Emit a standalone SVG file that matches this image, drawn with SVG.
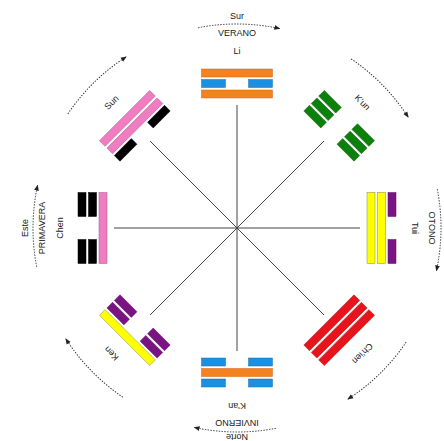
<svg xmlns="http://www.w3.org/2000/svg" width="444" height="441" viewBox="0 0 444 441">
<style>
.t{font-family:"Liberation Sans",Arial,sans-serif;font-size:9px;fill:#222;text-anchor:middle}
.arc{fill:none;stroke:#333;stroke-width:1;stroke-dasharray:1.4 1.4;marker-end:url(#ah)}
.ray{stroke:#444;stroke-width:1}
rect{stroke-width:0.5}
.or{fill:#F58220;stroke:#C8651A}
.bl{fill:#1B8FE0;stroke:#1570B0}
.gr{fill:#0B800B;stroke:#086008}
.ye{fill:#FFFF00;stroke:#8A8A30}
.pu{fill:#7A1483;stroke:#5A0E60}
.re{fill:#E8141B;stroke:#B00F14}
.pk{fill:#F07CC2;stroke:#A05A88}
.bk{fill:#000;stroke:#000}
</style>
<defs>
<marker id="ah" markerUnits="userSpaceOnUse" markerWidth="6" markerHeight="6" refX="5" refY="3" orient="auto">
<path d="M0,0.6 L6,3 L0,5.4 z" fill="#222"/>
</marker>
</defs>
<rect x="0" y="0" width="444" height="441" fill="#fff" stroke="none"/>
<g id="connectors">
<line class="ray" x1="237" y1="228" x2="237" y2="105"/>
<line class="ray" x1="237" y1="228" x2="324" y2="141"/>
<line class="ray" x1="237" y1="228" x2="360" y2="228"/>
<line class="ray" x1="237" y1="228" x2="324" y2="315"/>
<line class="ray" x1="237" y1="228" x2="237" y2="351"/>
<line class="ray" x1="237" y1="228" x2="150" y2="315"/>
<line class="ray" x1="237" y1="228" x2="114" y2="228"/>
<line class="ray" x1="237" y1="228" x2="150" y2="141"/>
</g>
<g id="arcs">
<path class="arc" d="M198.1,27.7 A204,204 0 0 1 279.4,28.5"/>
<path class="arc" transform="rotate(45 237 228)" d="M198.1,27.7 A204,204 0 0 1 279.4,28.5"/>
<path class="arc" transform="rotate(90 237 228)" d="M198.1,27.7 A204,204 0 0 1 279.4,28.5"/>
<path class="arc" transform="rotate(135 237 228)" d="M198.1,27.7 A204,204 0 0 1 279.4,28.5"/>
<path class="arc" transform="rotate(180 237 228)" d="M198.1,27.7 A204,204 0 0 1 279.4,28.5"/>
<path class="arc" transform="rotate(225 237 228)" d="M198.1,27.7 A204,204 0 0 1 279.4,28.5"/>
<path class="arc" transform="rotate(270 237 228)" d="M198.1,27.7 A204,204 0 0 1 279.4,28.5"/>
<path class="arc" transform="rotate(315 237 228)" d="M198.1,27.7 A204,204 0 0 1 279.4,28.5"/>
</g>
<g id="li">
<rect class="or" x="201.5" y="69" width="71" height="8"/>
<rect class="bl" x="201.5" y="79.5" width="24" height="8"/><rect class="bl" x="248.5" y="79.5" width="24" height="8"/>
<rect class="or" x="201.5" y="90" width="71" height="8"/>
<text class="t" x="237" y="53.5">Li</text>
<text class="t" x="237" y="36">VERANO</text>
<text class="t" x="237" y="18.5">Sur</text>
</g>
<g id="kun" transform="rotate(45 237 228)">
<rect class="gr" x="201.5" y="69" width="24" height="8"/><rect class="gr" x="248.5" y="69" width="24" height="8"/>
<rect class="gr" x="201.5" y="79.5" width="24" height="8"/><rect class="gr" x="248.5" y="79.5" width="24" height="8"/>
<rect class="gr" x="201.5" y="90" width="24" height="8"/><rect class="gr" x="248.5" y="90" width="24" height="8"/>
<text class="t" x="237" y="53.5">K'un</text>
</g>
<g id="tui" transform="rotate(90 237 228)">
<rect class="pu" x="201.5" y="69" width="24" height="8"/><rect class="pu" x="248.5" y="69" width="24" height="8"/>
<rect class="ye" x="201.5" y="79.5" width="71" height="8"/>
<rect class="ye" x="201.5" y="90" width="71" height="8"/>
<text class="t" x="237" y="53.5">Tui</text>
<text class="t" x="237" y="36">OTONO</text>
</g>
<g id="chien" transform="rotate(135 237 228)">
<rect class="re" x="201.5" y="69" width="71" height="8"/>
<rect class="re" x="201.5" y="79.5" width="71" height="8"/>
<rect class="re" x="201.5" y="90" width="71" height="8"/>
<text class="t" x="237" y="53.5">Ch'ien</text>
</g>
<g id="kan" transform="rotate(180 237 228)">
<rect class="bl" x="201.5" y="69" width="24" height="8"/><rect class="bl" x="248.5" y="69" width="24" height="8"/>
<rect class="or" x="201.5" y="79.5" width="71" height="8"/>
<rect class="bl" x="201.5" y="90" width="24" height="8"/><rect class="bl" x="248.5" y="90" width="24" height="8"/>
<text class="t" x="237" y="53.5">K'an</text>
<text class="t" x="237" y="36">INVIERNO</text>
<text class="t" x="237" y="22">Norte</text>
</g>
<g id="ken" transform="rotate(225 237 228)">
<rect class="ye" x="201.5" y="69" width="71" height="8"/>
<rect class="pu" x="201.5" y="79.5" width="24" height="8"/><rect class="pu" x="248.5" y="79.5" width="24" height="8"/>
<rect class="pu" x="201.5" y="90" width="24" height="8"/><rect class="pu" x="248.5" y="90" width="24" height="8"/>
<text class="t" x="237" y="53.5">Ken</text>
</g>
<g id="chen" transform="rotate(270 237 228)">
<rect class="bk" x="201.5" y="69" width="24" height="8"/><rect class="bk" x="248.5" y="69" width="24" height="8"/>
<rect class="bk" x="201.5" y="79.5" width="24" height="8"/><rect class="bk" x="248.5" y="79.5" width="24" height="8"/>
<rect class="pk" x="201.5" y="90" width="71" height="8"/>
<text class="t" x="237" y="53.5">Chen</text>
<text class="t" x="237" y="36">PRIMAVERA</text>
<text class="t" x="237" y="18.5">Este</text>
</g>
<g id="sun" transform="rotate(315 237 228)">
<rect class="pk" x="201.5" y="69" width="71" height="8"/>
<rect class="pk" x="201.5" y="79.5" width="71" height="8"/>
<rect class="bk" x="201.5" y="90" width="24" height="8"/><rect class="bk" x="248.5" y="90" width="24" height="8"/>
<text class="t" x="237" y="53.5">Sun</text>
</g>
</svg>
